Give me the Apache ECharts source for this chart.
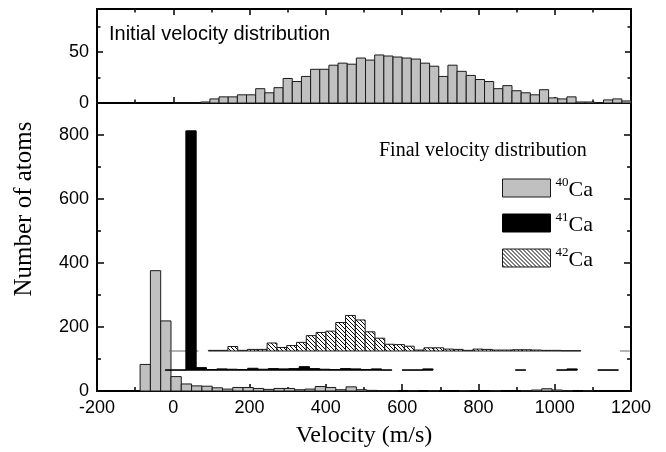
<!DOCTYPE html>
<html><head><meta charset="utf-8">
<script src="https://cdn.jsdelivr.net/npm/echarts@6/dist/echarts.min.js"></script>
<style>html,body{margin:0;padding:0;background:#fff}#c{width:666px;height:452px}</style>
</head><body><div id="c"></div>
<script>
// ---- DATA ----
// Initial velocity distribution (top panel): bins of 24 m/s starting at 0 m/s
const initialStart = 0, initialWidth = 24;
const initialCounts = [0,0,0,1,4,6,6,8,8,14,10,15,24,21,26,33,33,37,39,38,44,42,47,46,45,44,43,39,36,26,37,31,27,23,21,14,17,12,10,8,13,5,4,6,1,1,0.5,3,4,2];

// Final velocity distribution (bottom panel)
const ca40Start = -87, ca40Width = 27, ca40Offset = 0;
const ca40Counts = [83,376,219,45,22,16,15,10,6,11,11,8,5,8,8,4,6,14,11,4,13,4,2,1,1,null,1,null,1,null,null,1,null,null,1,null,null,1,3,7,3,1,null,1,null,null,null];

const ca41Start = -21, ca41Width = 27, ca41Offset = 65;
const ca41Counts = [1,1,748,8,2,4,3,2,6,3,5,4,5,11,5,3,2,5,4,2,4,1,null,1,1,4,null,null,null,null,null,null,null,null,1,null,null,null,1,4,null,null,1,1];

const ca42Start = -11, ca42Width = 25.7, ca42Offset = 125;
const ca42Counts = [0,0,0,null,2,2,14,2,5,5,25,11,17,27,48,58,62,89,111,97,60,40,21,20,15,3,10,10,6,5,2,6,5,3,3,4,4,3,2,2,1,1,null,null,null,null,0];

const xTicks = [-200,0,200,400,600,800,1000,1200];
const topYMajor = [0,50], topYMinor = [25,75];
const botYMajor = [0,200,400,600,800], botYMinor = [100,300,500,700];
const seriesNames = ['40Ca','41Ca','42Ca'];

// ---- helpers ----
function bins(start, width, counts) {
  const out = [];
  counts.forEach((c, i) => { if (c !== null) out.push([start + i * width, start + (i + 1) * width, c]); });
  return out;
}
const hatchCanvas = document.createElement('canvas');
hatchCanvas.width = 4; hatchCanvas.height = 4;
(function () {
  const g = hatchCanvas.getContext('2d');
  g.fillStyle = '#fff'; g.fillRect(0, 0, 4, 4);
  g.strokeStyle = '#000'; g.lineWidth = 1;
  g.beginPath();
  g.moveTo(-1, -1); g.lineTo(5, 5);
  g.moveTo(-1, 3); g.lineTo(1, 5);
  g.moveTo(3, -1); g.lineTo(5, 1);
  g.stroke();
})();
const hatch = { image: hatchCanvas, repeat: 'repeat' };
const GRAY = '#c0c0c0', EDGE = '#1a1a1a';

function histRender(fill, stroke, zeroStroke, offset) {
  return function (params, api) {
    const x0 = api.value(0), x1 = api.value(1), c = api.value(2);
    const p0 = api.coord([x0, offset]);
    const p1 = api.coord([x1, offset + c]);
    if (c === 0) {
      return { type: 'line', shape: { x1: p0[0], y1: p0[1], x2: p1[0], y2: p0[1] },
               style: { stroke: zeroStroke, lineWidth: 1 } };
    }
    return { type: 'rect',
             shape: { x: p0[0], y: p1[1], width: p1[0] - p0[0], height: p0[1] - p1[1] },
             style: { fill: fill, stroke: stroke, lineWidth: 1 } };
  };
}

const lineStyle = { color: '#000', width: 2 };
const tickStyle = { color: '#000', width: 1.5 };
const labelFont = { fontFamily: 'Liberation Sans', fontSize: 18, color: '#000' };
const plain = v => String(v);

function xAxis(grid, pos, opts) {
  return Object.assign({
    type: 'value', gridIndex: grid, position: pos, min: -200, max: 1200, interval: 200,
    axisLine: { show: true, onZero: false, lineStyle },
    axisTick: { show: true, inside: true, length: 6, lineStyle: tickStyle },
    minorTick: { show: true, splitNumber: 2, length: 3.5, lineStyle: tickStyle },
    axisLabel: { show: false },
    splitLine: { show: false }, minorSplitLine: { show: false }
  }, opts);
}
function yAxis(grid, pos, max, ticks, len, labels) {
  return {
    type: 'value', gridIndex: grid, position: pos, min: 0, max: max,
    axisLine: { show: true, onZero: false, lineStyle },
    axisTick: { show: true, inside: true, length: len, customValues: ticks, lineStyle: tickStyle },
    axisLabel: labels ? Object.assign({ show: true, margin: 8, customValues: ticks, formatter: plain }, labelFont) : { show: false },
    splitLine: { show: false }
  };
}

const option = {
  animation: false,
  backgroundColor: '#fff',
  grid: [
    { left: 97, right: 35, top: 9, height: 94 },
    { left: 97, right: 35, top: 103, height: 288 }
  ],
  xAxis: [
    xAxis(0, 'bottom', {}),
    xAxis(0, 'top', {}),
    xAxis(1, 'bottom', {
      axisTick: { show: true, inside: true, length: 7, lineStyle: tickStyle },
      minorTick: { show: true, splitNumber: 2, length: 4, lineStyle: tickStyle },
      axisLabel: Object.assign({ show: true, margin: 8, customValues: xTicks, formatter: plain }, labelFont)
    }),
    xAxis(1, 'top', { axisTick: { show: false }, minorTick: { show: false } })
  ],
  yAxis: [
    yAxis(0, 'left', 92, topYMajor, 6, true),
    yAxis(0, 'left', 92, topYMinor, 3.5, false),
    yAxis(0, 'right', 92, topYMajor, 6, false),
    yAxis(0, 'right', 92, topYMinor, 3.5, false),
    yAxis(1, 'left', 900, botYMajor, 7, true),
    yAxis(1, 'left', 900, botYMinor, 4, false),
    yAxis(1, 'right', 900, botYMajor, 7, false),
    yAxis(1, 'right', 900, botYMinor, 4, false)
  ],
  legend: {
    orient: 'vertical', left: 502, top: 175, padding: 0,
    itemWidth: 48, itemHeight: 18, itemGap: 9, icon: 'rect', selectedMode: false,
    data: [
      { name: seriesNames[0], itemStyle: { color: GRAY, borderColor: EDGE, borderWidth: 1 } },
      { name: seriesNames[1], itemStyle: { color: '#000', borderColor: '#000', borderWidth: 1 } },
      { name: seriesNames[2], itemStyle: { color: hatch, borderColor: EDGE, borderWidth: 1 } }
    ],
    formatter: n => '{s|' + n.slice(0, 2) + '}{b|Ca}',
    textStyle: {
      rich: {
        s: { fontFamily: 'Liberation Serif', fontSize: 13, color: '#000', lineHeight: 13, padding: [0, 0, 10, 0] },
        b: { fontFamily: 'Liberation Serif', fontSize: 22, color: '#000', lineHeight: 18, padding: [4, 0, 0, 0] }
      }
    }
  },
  graphic: [
    { type: 'text', left: 109, top: 24, style: { text: 'Initial velocity distribution', fontFamily: 'Liberation Sans', fontSize: 20, fill: '#000' } },
    { type: 'text', left: 379, top: 141, style: { text: 'Final velocity distribution', fontFamily: 'Liberation Serif', fontSize: 20, fill: '#000' } },
    { type: 'text', x: 24, y: 209, rotation: Math.PI / 2, style: { text: 'Number of atoms', fontFamily: 'Liberation Serif', fontSize: 25, fill: '#000', align: 'center', verticalAlign: 'middle' } },
    { type: 'text', x: 364, y: 436, style: { text: 'Velocity (m/s)', fontFamily: 'Liberation Serif', fontSize: 24, fill: '#000', align: 'center', verticalAlign: 'middle' } }
  ],
  series: [
    { type: 'custom', name: 'initial', xAxisIndex: 0, yAxisIndex: 0, encode: { x: [0, 1], y: 2 },
      itemStyle: { color: GRAY },
      renderItem: histRender(GRAY, EDGE, EDGE, 0), data: bins(initialStart, initialWidth, initialCounts), z: 2 },
    { type: 'custom', name: seriesNames[0], xAxisIndex: 2, yAxisIndex: 4, encode: { x: [0, 1], y: 2 },
      itemStyle: { color: GRAY },
      renderItem: histRender(GRAY, EDGE, EDGE, ca40Offset), data: bins(ca40Start, ca40Width, ca40Counts), z: 2 },
    { type: 'custom', name: seriesNames[2], xAxisIndex: 2, yAxisIndex: 4, encode: { x: [0, 1], y: 2 },
      itemStyle: { color: hatch },
      renderItem: histRender(hatch, EDGE, '#666', ca42Offset), data: bins(ca42Start, ca42Width, ca42Counts), z: 3 },
    { type: 'custom', name: seriesNames[1], xAxisIndex: 2, yAxisIndex: 4, encode: { x: [0, 1], y: 2 },
      itemStyle: { color: '#000' },
      renderItem: histRender('#000', '#000', '#000', ca41Offset), data: bins(ca41Start, ca41Width, ca41Counts), z: 4 }
  ]
};
const chart = echarts.init(document.getElementById('c'), null, { renderer: 'canvas' });
chart.setOption(option);
</script></body></html>
